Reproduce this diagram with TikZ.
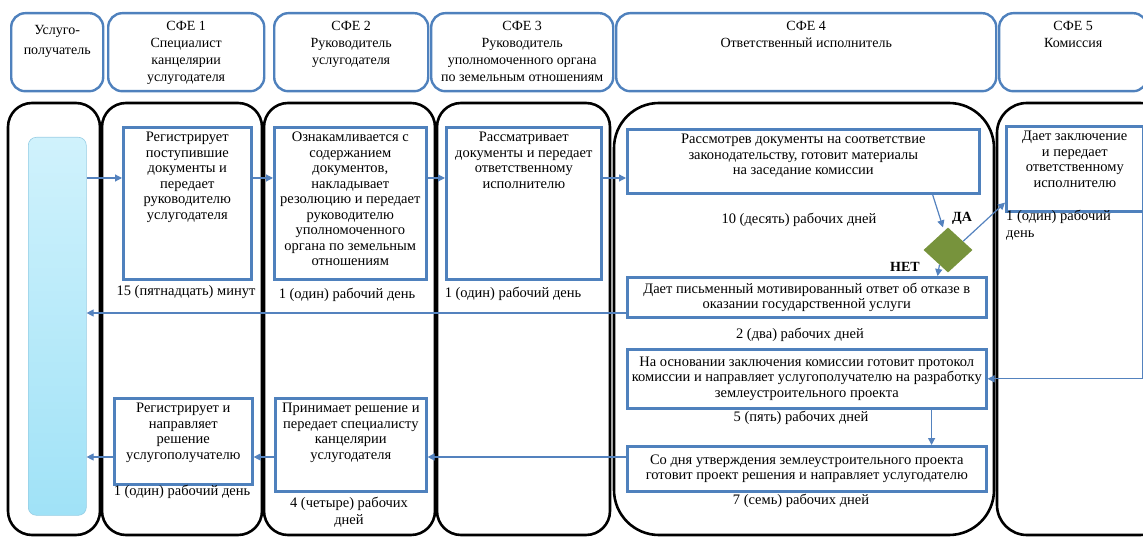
\documentclass[tikz,border=0pt]{standalone}
\usepackage{fontspec}
\setmainfont{Liberation Serif}
\usetikzlibrary{arrows.meta,positioning,calc,shapes.geometric}

\definecolor{boxblue}{RGB}{79,129,189}
\definecolor{arrblue}{RGB}{84,130,190}
\definecolor{decgreen}{RGB}{119,147,60}
\definecolor{bartop}{RGB}{208,242,252}
\definecolor{barbot}{RGB}{160,226,247}
\definecolor{barline}{RGB}{150,205,228}

% text of a box, fixed size, top or centred
\newcommand{\celltext}[4][t]{\parbox[t][#3][#1]{#2}{\centering #4\par}}

\begin{document}
\begin{tikzpicture}[x=1pt, y=-1pt, font=\fontsize{14.5}{17}\selectfont]
\tikzstyle{lane}=[draw=black, line width=2.6pt, rounded corners=24pt]
\tikzstyle{hdr}=[draw=boxblue, line width=2.4pt, rounded corners=14pt, fill=white, anchor=north west, inner xsep=4pt, inner ysep=8pt, font=\fontsize{14}{17}\selectfont]
\tikzstyle{blk}=[draw=boxblue, line width=2.6pt, fill=white, anchor=north west, inner xsep=3pt, inner ysep=5pt, font=\fontsize{14.5}{15.5}\selectfont]
\tikzstyle{lbl}=[inner sep=0pt, align=center]
\tikzstyle{arr}=[draw=arrblue, line width=1.2pt, -{Triangle[length=7pt,width=7pt]}]

\useasboundingbox (0,0) rectangle (1143,537);

% swimlanes
\draw[lane] (8,103) rectangle (100,535);
\draw[lane] (102,103) rectangle (262,535);
\draw[lane] (264,103) rectangle (435,535);
\draw[lane] (437,103) rectangle (610,535);
\draw[lane, rounded corners=45pt] (614,103) rectangle (994,535);
\draw[lane, rounded corners=30pt] (997,103) rectangle (1170,535);

% headers
\node[hdr] (h0) at (10,12) {\celltext{84pt}{62pt}{\vspace*{4pt}Услуго-\\[3pt]получатель}};
\node[hdr] (h1) at (107,12) {\celltext{148pt}{62pt}{СФЕ 1\\Специалист\\канцелярии\\услугодателя}};
\node[hdr] (h2) at (273,12) {\celltext{146pt}{62pt}{СФЕ 2\\Руководитель\\услугодателя}};
\node[hdr] (h3) at (430,12) {\celltext{174pt}{62pt}{СФЕ 3\\Руководитель\\уполномоченного органа\\по земельным отношениям}};
\node[hdr] (h4) at (615,12) {\celltext{372pt}{62pt}{СФЕ 4\\Ответственный исполнитель}};
\node[hdr] (h5) at (998,12) {\celltext{140pt}{62pt}{СФЕ 5\\Комиссия}};

% service receiver
\node[draw=barline, line width=0.6pt, rounded corners=8pt, top color=bartop, bottom color=barbot, minimum width=58pt, minimum height=378pt, anchor=north west, inner sep=0pt] (bar) at (28,137) {};

% steps
\node[blk] (b1) at (122,126) {\celltext{122pt}{142pt}{Регистрирует\\поступившие\\документы и\\передает\\руководителю\\услугодателя}};
\node[blk] (b2) at (273,126) {\celltext{146pt}{142pt}{Ознакамливается с\\содержанием\\документов,\\накладывает\\резолюцию и передает\\руководителю\\уполномоченного\\органа по земельным\\отношениям}};
\node[blk] (b3) at (445,126) {\celltext{149pt}{142pt}{Рассматривает\\документы и передает\\ответственному\\исполнителю}};
\node[blk] (b4) at (626,128) {\celltext{346pt}{54pt}{Рассмотрев документы на соответствие\\законодательству, готовит материалы\\на заседание комиссии}};
\node[blk] (b5) at (1005,125) {\celltext{131pt}{75pt}{Дает заключение\\и передает\\ответственному\\исполнителю}};
\node[diamond, fill=decgreen, minimum width=49pt, minimum height=45pt, inner sep=0pt] (dec) at (948,250) {};
\node[blk] (b6) at (626,276) {\celltext[c]{353pt}{30pt}{Дает письменный мотивированный ответ об отказе в\\оказании государственной услуги}};
\node[blk] (b7) at (626,348) {\celltext[c]{353pt}{49pt}{На основании заключения комиссии готовит протокол\\комиссии и направляет услугополучателю на разработку\\землеустроительного проекта}};
\node[blk] (b8) at (626,445) {\celltext[c]{353pt}{35pt}{Со дня утверждения землеустроительного проекта\\готовит проект решения и направляет услугодателю}};
\node[blk] (b9) at (113,397) {\celltext{132pt}{76pt}{Регистрирует и\\направляет\\решение\\услугополучателю}};
\node[blk] (b10) at (274,397) {\celltext{145pt}{83pt}{Принимает решение и\\передает специалисту\\канцелярии\\услугодателя}};

% durations
\node[lbl] (t1) at (186,292) {15 (пятнадцать) минут};
\node[lbl] (t2) at (347,295) {1 (один) рабочий день};
\node[lbl] (t3) at (513,294) {1 (один) рабочий день};
\node[lbl] (t4) at (799,220) {10 (десять) рабочих дней};
\node[lbl, align=left, anchor=north west] (t5) at (1006,210) {1 (один) рабочий\\день};
\node[lbl] (t6) at (800,335) {2 (два) рабочих дней};
\node[lbl] (t7) at (801,418) {5 (пять) рабочих дней};
\node[lbl] (t8) at (801,501) {7 (семь) рабочих дней};
\node[lbl] (t9) at (182,492) {1 (один) рабочий день};
\node[lbl] (t10) at (349,512) {4 (четыре) рабочих\\дней};
\node[lbl, font=\bfseries\fontsize{14}{17}\selectfont] (yes) at (962,218) {ДА};
\node[lbl, font=\bfseries\fontsize{14}{17}\selectfont] (no) at (905,267) {НЕТ};

% rows of the horizontal connectors
\coordinate (fwd) at (0,178);
\coordinate (rej) at (0,313);
\coordinate (ret) at (0,457);

\draw[arr] (bar.east |- fwd) -- (b1.west |- fwd);
\draw[arr] (b1.east |- fwd) -- (b2.west |- fwd);
\draw[arr] (b2.east |- fwd) -- (b3.west |- fwd);
\draw[arr] (b3.east |- fwd) -- (b4.west |- fwd);
\draw[arr] ([xshift=-48pt]b4.south east) -- ([xshift=-5pt]dec.north);
\draw[arr] (dec.30) -- ([yshift=10pt]b5.south west);
\draw[arr] (dec.240) -- ([xshift=-50pt]b6.north east);
\draw[arr] (b6.west |- rej) -- (bar.east |- rej);
\draw[arr] ([xshift=-2pt]b5.south east) |- (b7.east);
\draw[arr] ([xshift=-56pt]b7.south east) -- ([xshift=-56pt]b8.north east);
\draw[arr] (b8.west |- ret) -- (b10.east |- ret);
\draw[arr] (b10.west |- ret) -- (b9.east |- ret);
\draw[arr] (b9.west |- ret) -- (bar.east |- ret);
\end{tikzpicture}
\end{document}
